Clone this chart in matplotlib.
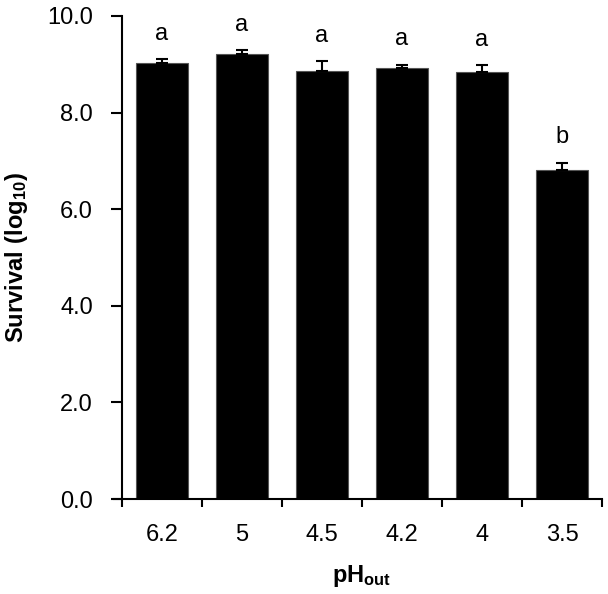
import matplotlib
matplotlib.use('Agg')
import matplotlib.pyplot as plt

ph_labels = ['6.2', '5', '4.5', '4.2', '4', '3.5']
survival = [9.03, 9.21, 8.87, 8.92, 8.85, 6.82]
err_up = [0.07, 0.08, 0.19, 0.07, 0.13, 0.14]
letters = ['a', 'a', 'a', 'a', 'a', 'b']

plt.rcParams['font.family'] = ['Liberation Sans', 'DejaVu Sans']
plt.rcParams['mathtext.fontset'] = 'custom'
plt.rcParams['mathtext.rm'] = 'Liberation Sans'
plt.rcParams['mathtext.bf'] = 'Liberation Sans:bold'

fig = plt.figure(figsize=(6.08, 5.94), dpi=100)
# axes box: y axis at x=122 px, 0 at y=499 px, 10 at y=16 px
ax = fig.add_axes([122 / 608, 1 - 499 / 594, 480 / 608, 483 / 594])

x = list(range(len(survival)))
ax.bar(x, survival, width=0.66, color='black', edgecolor='#555555', linewidth=0.8, zorder=2)
ax.errorbar(x, survival, yerr=[[0] * len(err_up), err_up], fmt='none',
            ecolor='black', elinewidth=1.5, capsize=4.5, capthick=1.5, zorder=3)
for xi, v, e, l in zip(x, survival, err_up, letters):
    ax.text(xi, v + e + 0.3, l, ha='center', va='bottom', fontsize=17)

ax.set_xlim(-0.5, 5.5)
ax.set_ylim(0, 10)
ax.set_yticks([0, 2, 4, 6, 8, 10])
ax.set_yticklabels(['0.0', '2.0', '4.0', '6.0', '8.0', '10.0'], fontsize=17)
ax.set_xticks(x)
ax.set_xticklabels(ph_labels, fontsize=17)
ax.tick_params(axis='x', which='major', length=0, pad=18)
ax.set_xticks([i - 0.5 for i in range(len(x) + 1)], minor=True)
ax.tick_params(axis='x', which='minor', direction='out', length=6, width=1.5)
ax.tick_params(axis='y', direction='out', length=8, width=1.5, pad=13)

for s in ['top', 'right']:
    ax.spines[s].set_visible(False)
for s in ['left', 'bottom']:
    ax.spines[s].set_linewidth(1.5)
ax.spines['bottom'].set_bounds(-0.6, 5.5)

ax.set_ylabel(r'$\mathbf{Survival\ (log_{10})}$', fontsize=17, labelpad=12)
ax.set_xlabel(r'$\mathbf{pH_{out}}$', fontsize=17, labelpad=12)

plt.savefig('out.png', dpi=100)
